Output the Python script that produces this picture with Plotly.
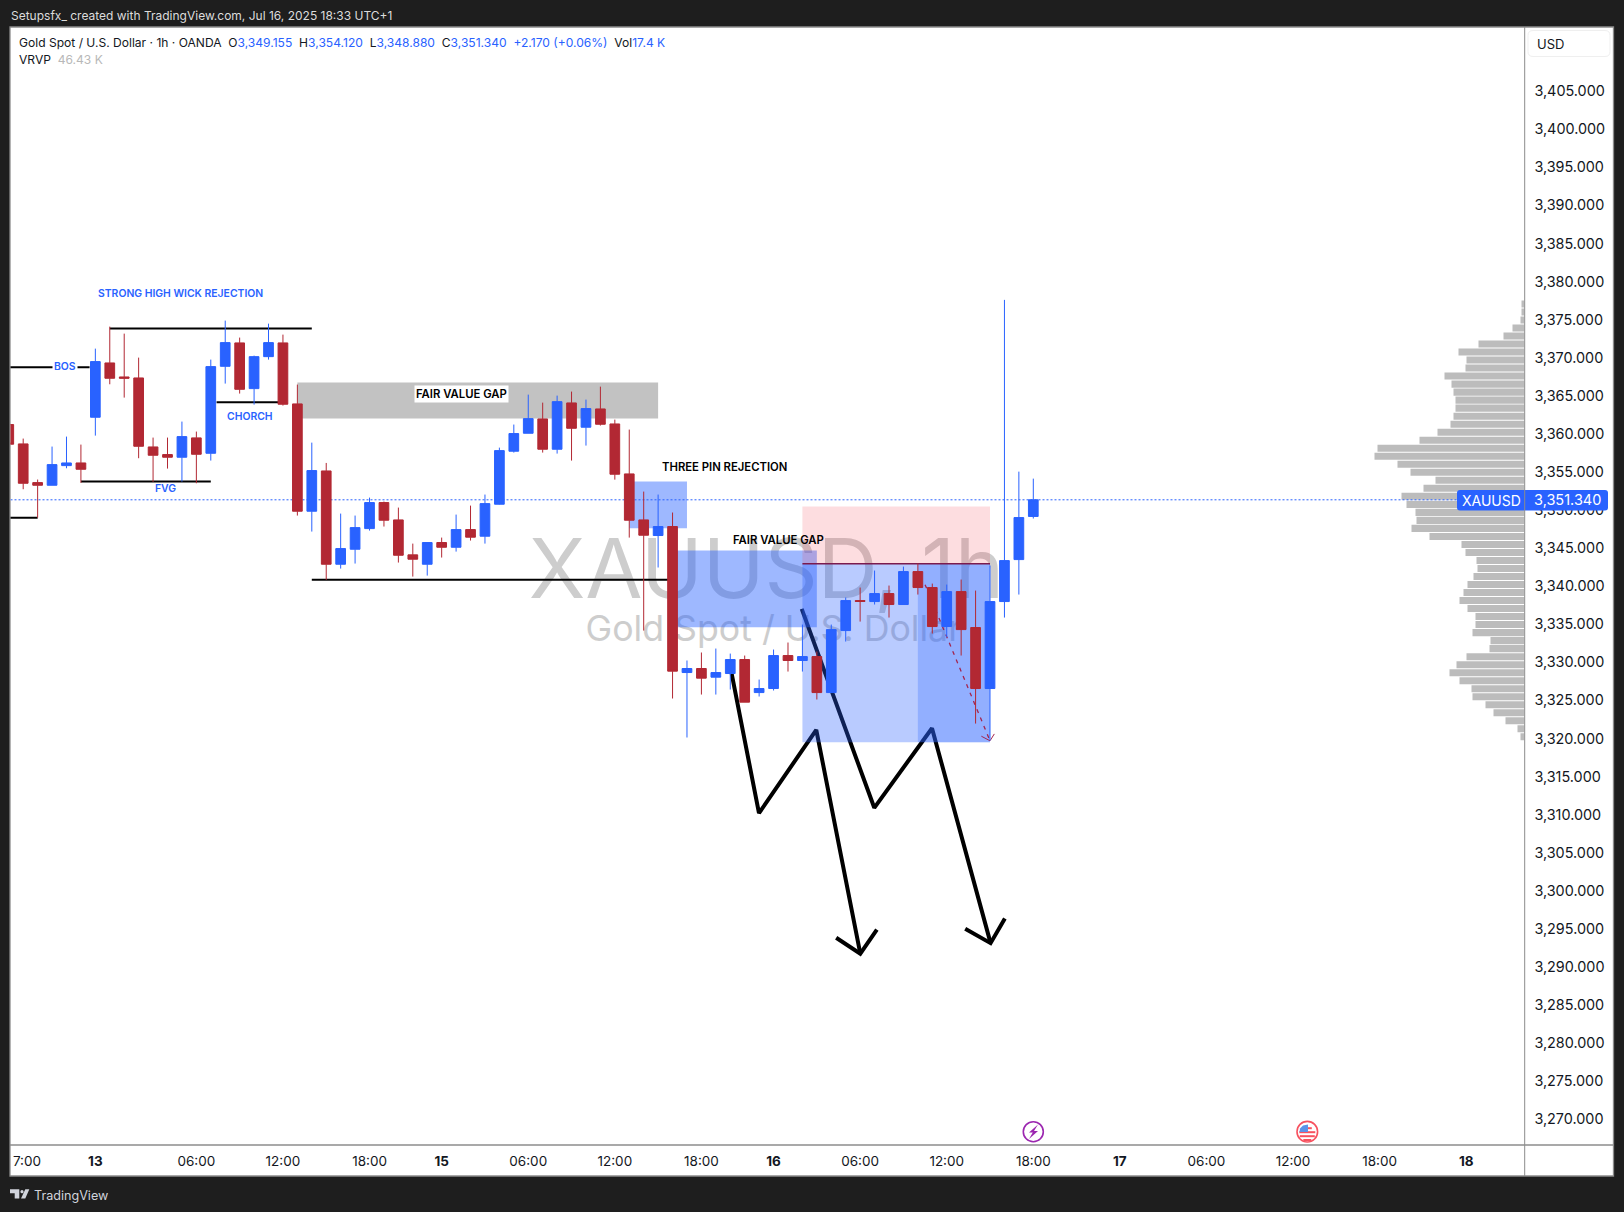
import plotly.graph_objects as go

W, H = 1624, 1212

# ---------- data ----------
bar_index = [-6,-5,-4,-3,-2,-1,0,1,2,3,4,5,6,7,8,9,10,11,12,13,14,15,16,17,18,19,20,21,22,23,24,25,26,27,28,29,30,31,32,33,34,35,36,37,38,39,40,41,42,43,44,45,46,47,48,49,50,51,52,53,54,55,56,57,58,59,60,61,62,63,64,65]
opens = [3361.22,3358.68,3353.60,3353.25,3355.83,3356.18,3362.18,3369.31,3367.47,3367.34,3358.28,3357.28,3356.93,3359.47,3357.45,3368.87,3371.94,3365.94,3370.14,3371.94,3363.93,3349.84,3355.13,3342.88,3344.85,3347.56,3350.98,3348.70,3344.11,3342.88,3345.73,3345.11,3347.43,3346.56,3350.76,3357.72,3360.08,3361.96,3357.98,3364.06,3360.87,3363.27,3361.30,3354.74,3348.70,3346.65,3347.83,3328.66,3329.19,3328.05,3328.53,3330.37,3326.03,3326.56,3330.89,3330.24,3330.76,3326.03,3334.17,3338.11,3337.98,3339.03,3337.59,3341.92,3339.82,3334.70,3339.29,3334.57,3326.56,3337.98,3343.49,3349.155]
highs = [3361.90,3359.38,3354.00,3358.33,3359.64,3358.59,3371.19,3374.08,3373.16,3370.01,3359.51,3359.51,3361.61,3360.30,3369.75,3374.87,3372.64,3370.27,3374.47,3373.03,3366.47,3358.85,3356.18,3349.53,3349.27,3351.63,3351.11,3350.32,3345.59,3345.73,3346.38,3349.40,3350.58,3352.03,3358.19,3361.22,3365.15,3364.10,3365.02,3365.55,3364.50,3366.20,3361.87,3360.56,3352.42,3352.03,3349.67,3330.24,3331.29,3331.81,3331.15,3330.89,3327.74,3331.68,3332.60,3334.96,3331.42,3334.96,3338.51,3339.82,3342.05,3340.08,3342.57,3342.97,3340.34,3340.21,3340.87,3339.42,3342.71,3377.59,3355.04,3354.12]
lows = [3358.10,3352.73,3349.00,3353.25,3355.48,3353.56,3359.77,3366.51,3364.76,3356.80,3353.69,3355.44,3353.73,3353.51,3356.49,3366.60,3365.29,3363.84,3369.75,3363.71,3349.27,3347.17,3340.83,3342.31,3342.97,3347.30,3347.83,3343.10,3341.26,3341.39,3343.76,3344.54,3345.99,3345.59,3350.72,3357.54,3360.08,3357.54,3357.41,3356.49,3358.46,3361.09,3353.99,3346.38,3334.17,3342.45,3325.25,3320.13,3325.77,3325.77,3326.43,3324.77,3325.51,3326.30,3328.79,3328.79,3325.12,3326.03,3332.73,3335.35,3337.59,3335.88,3337.59,3338.90,3333.78,3333.30,3330.89,3321.96,3319.73,3335.88,3338.90,3348.88]
closes = [3358.64,3353.51,3353.25,3355.96,3356.18,3355.35,3369.49,3367.30,3367.30,3358.37,3357.19,3356.93,3359.64,3357.32,3368.83,3371.98,3365.85,3370.14,3371.98,3363.89,3349.84,3355.18,3342.88,3344.94,3347.69,3350.98,3348.66,3344.06,3343.54,3345.73,3345.11,3347.43,3346.43,3350.84,3357.80,3360.04,3362.00,3357.98,3364.23,3360.73,3363.32,3361.26,3354.70,3348.66,3346.69,3347.83,3328.84,3329.19,3327.92,3328.66,3330.37,3324.77,3326.56,3330.89,3330.24,3330.76,3326.03,3334.30,3338.11,3338.00,3339.03,3337.59,3341.92,3339.82,3334.70,3339.29,3334.30,3326.56,3337.98,3343.36,3349.01,3351.34]

vp_prices = [3377.06,3376.01,3374.95,3373.90,3372.85,3371.80,3370.74,3369.69,3368.64,3367.59,3366.53,3365.48,3364.43,3363.38,3362.32,3361.27,3360.22,3359.17,3358.11,3357.06,3356.01,3354.96,3353.90,3352.85,3351.80,3350.74,3349.69,3348.64,3347.59,3346.53,3345.48,3344.43,3343.38,3342.32,3341.27,3340.22,3339.17,3338.11,3337.06,3336.01,3334.96,3333.90,3332.85,3331.80,3330.74,3329.69,3328.64,3327.59,3326.53,3325.48,3324.43,3323.38,3322.32,3321.27,3320.22]
vp_volume = [3,3,4,12,21,46,66,58,59,80,73,71,69,69,71,74,87,105,147,150,127,114,89,101,123,118,109,108,113,95,63,59,48,47,51,57,61,65,57,49,49,52,34,35,58,68,75,65,53,52,39,31,19,7,4]

price_ticks = [3270,3275,3280,3285,3290,3295,3300,3305,3310,3315,3320,3325,3330,3335,3340,3345,3350,3355,3360,3365,3370,3375,3380,3385,3390,3395,3400,3405]
time_ticks = [-4.74,0,7,13,19,24,30,36,42,47,53,59,65,71,77,83,89,95]
time_labels = ["7:00","<b>13</b>","06:00","12:00","18:00","<b>15</b>","06:00","12:00","18:00","<b>16</b>","06:00","12:00","18:00","<b>17</b>","06:00","12:00","18:00","<b>18</b>"]

last_price = 3351.34
level_lines = [
    ([1, 15], [3373.82, 3373.82]),
    ([-6, -0.4], [3368.74, 3368.74]),
    ([-6, -4], [3349.0, 3349.0]),
    ([-1, 8], [3353.73, 3353.73]),
    ([8.4, 13], [3364.15, 3364.15]),
    ([15, 40], [3340.85, 3340.85]),
]
zigzag_one = ([44.10, 45.99, 49.96, 53.01], [3328.49, 3310.19, 3321.14, 3291.74])
zigzag_one_head = ([51.34, 53.01, 54.16], [3293.84, 3291.74, 3294.89])
zigzag_two = ([48.95, 53.98, 57.98, 62.04], [3337.02, 3310.90, 3321.35, 3293.13])
zigzag_two_head = ([60.28, 62.04, 63.03], [3295.02, 3293.13, 3296.37])
zones = [  # x0, x1, low, high, colour
    (14, 39, 3362.0, 3366.73, "rgba(150,150,150,0.58)"),
    (37, 41, 3347.61, 3353.73, "rgba(41,98,255,0.45)"),
    (40, 50, 3334.61, 3344.68, "rgba(41,98,255,0.45)"),
    (49, 62, 3342.93, 3350.45, "rgba(242,54,69,0.17)"),
    (49, 62, 3319.52, 3342.93, "rgba(41,98,255,0.33)"),
    (57, 62, 3319.52, 3342.93, "rgba(41,98,255,0.27)"),
]
entry_line = ([49, 62], [3342.93, 3342.93])
path_line = ([57.5, 62], [3340.2, 3319.7])
path_head = ([61.4, 62, 62.3], [3320.3, 3319.7, 3320.6])

XR = [-5.88, 99.04]
YR = [3266.69, 3413.29]
BLUE = "#2962ff"
RED = "#b22833"
INK = "#131722"
FONT = "Inter, Roboto, sans-serif"


def fx(x):
    return x / W


def fy(y):
    return 1 - y / H


fig = go.Figure()

# volume profile (xy)
fig.add_trace(go.Bar(y=vp_prices, x=vp_volume, orientation="h", marker=dict(color="#bcbcbc", line=dict(width=0)),
                     xaxis="x", yaxis="y", hoverinfo="skip", showlegend=False))

# watermark (x2y2)
fig.add_trace(go.Scatter(x=[46.5, 47.0], y=[3341.15, 3334.0], mode="text",
                         text=["XAUUSD, 1h", "Gold Spot / U.S. Dollar"],
                         textposition="middle center",
                         textfont=dict(family=FONT, size=[83, 35.7], color="#cdcdcd"),
                         xaxis="x2", yaxis="y2", hoverinfo="skip", showlegend=False))

# drawings (x3y3)
for xs, ys in level_lines:
    fig.add_trace(go.Scatter(x=xs, y=ys, mode="lines", line=dict(color="#000000", width=2),
                             xaxis="x3", yaxis="y3", hoverinfo="skip", showlegend=False))
for xs, ys in (zigzag_one, zigzag_one_head, zigzag_two, zigzag_two_head):
    fig.add_trace(go.Scatter(x=xs, y=ys, mode="lines", line=dict(color="#000000", width=4),
                             xaxis="x3", yaxis="y3", hoverinfo="skip", showlegend=False))
for x0, x1, lo, hi, col in zones:
    fig.add_trace(go.Scatter(x=[x0, x1, x1, x0, x0], y=[lo, lo, hi, hi, lo], mode="lines", fill="toself",
                             fillcolor=col, line=dict(width=0), xaxis="x3", yaxis="y3",
                             hoverinfo="skip", showlegend=False))
fig.add_trace(go.Scatter(x=entry_line[0], y=entry_line[1], mode="lines", line=dict(color="#7b1a4e", width=1.5),
                         xaxis="x3", yaxis="y3", hoverinfo="skip", showlegend=False))
fig.add_trace(go.Scatter(x=path_line[0], y=path_line[1], mode="lines",
                         line=dict(color="#a3254f", width=1.3, dash="4px 5px"),
                         xaxis="x3", yaxis="y3", hoverinfo="skip", showlegend=False))
fig.add_trace(go.Scatter(x=path_head[0], y=path_head[1], mode="lines", line=dict(color="#a3254f", width=1),
                         xaxis="x3", yaxis="y3", hoverinfo="skip", showlegend=False))
fig.add_trace(go.Scatter(x=[XR[0], XR[1]], y=[last_price, last_price], mode="lines",
                         line=dict(color=BLUE, width=1, dash="2px 2px"),
                         xaxis="x3", yaxis="y3", hoverinfo="skip", showlegend=False))

# candles (x4y4)
fig.add_trace(go.Candlestick(x=bar_index, open=opens, high=highs, low=lows, close=closes,
                             increasing=dict(fillcolor=BLUE, line=dict(color=BLUE, width=1)),
                             decreasing=dict(fillcolor=RED, line=dict(color=RED, width=1)),
                             whiskerwidth=0, xaxis="x4", yaxis="y4", hoverinfo="skip", showlegend=False))

dom_x = [10.5 / W, 1524.5 / W]
dom_y = [1 - 1144.5 / H, 1 - 28 / H]
hidden_x = dict(visible=False, range=XR, overlaying="x", fixedrange=True)
hidden_y = dict(visible=False, range=YR, overlaying="y", fixedrange=True)

shapes = []
# chart panel
shapes.append(dict(type="rect", xref="paper", yref="paper", x0=fx(10), x1=fx(1613.5), y0=fy(1176), y1=fy(27),
                   fillcolor="#ffffff", line=dict(color="#8c8c8c", width=1.3), layer="below"))


def rrect(x0, y0, x1, y1, r):
    return (f"M {fx(x0+r)} {fy(y0)} L {fx(x1-r)} {fy(y0)} Q {fx(x1)} {fy(y0)} {fx(x1)} {fy(y0+r)} "
            f"L {fx(x1)} {fy(y1-r)} Q {fx(x1)} {fy(y1)} {fx(x1-r)} {fy(y1)} L {fx(x0+r)} {fy(y1)} "
            f"Q {fx(x0)} {fy(y1)} {fx(x0)} {fy(y1-r)} L {fx(x0)} {fy(y0+r)} Q {fx(x0)} {fy(y0)} {fx(x0+r)} {fy(y0)} Z")


def poly(points):
    return "M " + " L ".join(f"{fx(a)} {fy(b)}" for a, b in points) + " Z"


def circle(cx, cy, r, fill, line, lw):
    return dict(type="circle", xref="paper", yref="paper", x0=fx(cx - r), x1=fx(cx + r), y0=fy(cy + r), y1=fy(cy - r),
                fillcolor=fill, line=dict(color=line, width=lw), layer="above")


# USD box
shapes.append(dict(type="path", xref="paper", yref="paper", path=rrect(1528, 30.5, 1610, 56.5, 5),
                   fillcolor="#ffffff", line=dict(color="#efefef", width=1), layer="above"))
# price tag
shapes.append(dict(type="path", xref="paper", yref="paper", path=rrect(1457, 490, 1608, 510.5, 3),
                   fillcolor=BLUE, line=dict(width=0), layer="above"))
# separators
shapes.append(dict(type="line", xref="paper", yref="paper", x0=fx(1524.7), x1=fx(1524.7), y0=fy(27), y1=fy(1176),
                   line=dict(color="#8c8c8c", width=1), layer="above"))
shapes.append(dict(type="line", xref="paper", yref="paper", x0=fx(10), x1=fx(1613.5), y0=fy(1145), y1=fy(1145),
                   line=dict(color="#8c8c8c", width=1.3), layer="above"))
# lightning icon
shapes.append(circle(1033.3, 1131.7, 10, "#ffffff", "#9c27b0", 1.6))
shapes.append(dict(type="path", xref="paper", yref="paper",
                   path=poly([(1038, 1124.5), (1029, 1132.5), (1032.8, 1132.5), (1029, 1139), (1038, 1131), (1034, 1131)]),
                   fillcolor="#9c27b0", line=dict(width=0), layer="above"))
# US flag icon
shapes.append(circle(1307.3, 1131.7, 10.3, "#ffffff", "#f7525f", 1.6))
for y0, half in ((1127.2, 4.5), (1131.2, 8), (1135.2, 7.5), (1139, 4)):
    shapes.append(dict(type="rect", xref="paper", yref="paper", x0=fx(1307.3 - half), x1=fx(1307.3 + half),
                       y0=fy(y0 + 2), y1=fy(y0), fillcolor="#f7525f", line=dict(width=0), layer="above"))
shapes.append(dict(type="path", xref="paper", yref="paper",
                   path=poly([(1299.5, 1132), (1308, 1132), (1308, 1124.5), (1303, 1125.5), (1300, 1128.5)]),
                   fillcolor="#5d93e8", line=dict(width=0), layer="above"))
# TradingView logo
shapes.append(dict(type="path", xref="paper", yref="paper",
                   path=poly([(10, 1189.3), (19.3, 1189.3), (19.3, 1198.5), (14.7, 1198.5), (14.7, 1193.3), (10, 1193.3)]),
                   fillcolor="#d1d4dc", line=dict(width=0), layer="above"))
shapes.append(circle(22, 1191.7, 1.6, "#d1d4dc", "#d1d4dc", 0))
shapes.append(dict(type="path", xref="paper", yref="paper",
                   path=poly([(25.3, 1189.3), (29.3, 1189.3), (25.3, 1198.5), (21, 1198.5)]),
                   fillcolor="#d1d4dc", line=dict(width=0), layer="above"))


def note(text, x, y, size, color=INK, anchor="center", bg=None, weight=None, pad=0):
    a = dict(text=text, xref="paper", yref="paper", x=fx(x), y=fy(y), xanchor=anchor, yanchor="middle",
             showarrow=False, font=dict(family=FONT, size=size, color=color), borderpad=pad)
    if bg:
        a["bgcolor"] = bg
    if weight:
        a["font"]["weight"] = weight
    return a


def c(t):
    return f'<span style="color:{BLUE}">{t}</span>'


row_one = ("Gold Spot / U.S. Dollar · 1h · OANDA  O" + c("3,349.155") + "  H" + c("3,354.120") + "  L" + c("3,348.880")
           + "  C" + c("3,351.340") + "  " + c("+2.170 (+0.06%)") + "  Vol" + c("17.4 K"))
row_two = 'VRVP  <span style="color:#b8b8b8">46.43 K</span>'

annotations = [
    note("Setupsfx_ created with TradingView.com, Jul 16, 2025 18:33 UTC+1", 10, 15.7, 12, "#dcdcdc", "left"),
    note(row_one, 18, 42.7, 12.07, INK, "left"),
    note(row_two, 18, 59.7, 12.07, INK, "left"),
    note("USD", 1536, 43.5, 13, INK, "left"),
    note("XAUUSD", 1461, 500, 14, "#ffffff", "left"),
    note("3,351.340", 1533, 499.5, 14.5, "#ffffff", "left"),
    note("TradingView", 33.3, 1195.5, 12.6, "#d1d4dc", "left"),
    note("STRONG HIGH WICK REJECTION", 180.5, 293.5, 10.4, BLUE, weight=600),
    note("BOS", 65, 366, 10.4, BLUE, bg="#ffffff", weight=600, pad=1),
    note("FVG", 165.5, 488.5, 10.4, BLUE, weight=600),
    note("CHORCH", 250, 416.5, 10.4, BLUE, weight=600),
    note("FAIR VALUE GAP", 461, 394.5, 11.3, "#000000", bg="#ffffff", weight=600, pad=1),
    note("THREE PIN REJECTION", 724, 467, 11.3, "#000000", weight=600),
    note("FAIR VALUE GAP", 778.5, 539.5, 11.3, "#000000", weight=600),
]

fig.update_layout(
    width=W, height=H, autosize=False,
    margin=dict(l=0, r=0, t=0, b=0, pad=0),
    paper_bgcolor="#1e1e1e", plot_bgcolor="rgba(0,0,0,0)",
    showlegend=False, bargap=0.12, boxgap=0.18, boxgroupgap=0.18, dragmode=False,
    font=dict(family=FONT, color=INK),
    xaxis=dict(domain=dom_x, range=[1514, 0], visible=False, fixedrange=True, anchor="y"),
    yaxis=dict(domain=dom_y, range=YR, visible=False, fixedrange=True, anchor="x"),
    xaxis2=dict(hidden_x, anchor="y2"), yaxis2=dict(hidden_y, anchor="x2"),
    xaxis3=dict(hidden_x, anchor="y3"), yaxis3=dict(hidden_y, anchor="x3"),
    xaxis4=dict(range=XR, overlaying="x", anchor="y4", fixedrange=True, showgrid=False, zeroline=False,
                rangeslider=dict(visible=False), tickmode="array", tickvals=time_ticks, ticktext=time_labels,
                ticks="outside", ticklen=4, tickcolor="rgba(0,0,0,0)", tickfont=dict(family=FONT, size=13.5, color=INK)),
    yaxis4=dict(range=YR, overlaying="y", anchor="x4", side="right", fixedrange=True, showgrid=False, zeroline=False,
                tickmode="array", tickvals=price_ticks, ticktext=[f"{v:,.3f}" for v in price_ticks],
                ticks="outside", ticklen=6, tickcolor="rgba(0,0,0,0)", tickfont=dict(family=FONT, size=14.4, color=INK)),
    shapes=shapes, annotations=annotations,
)

fig.write_html("out.html", post_script="document.body.style.margin='0';document.body.style.overflow='hidden';",
               config=dict(displayModeBar=False, responsive=False))
